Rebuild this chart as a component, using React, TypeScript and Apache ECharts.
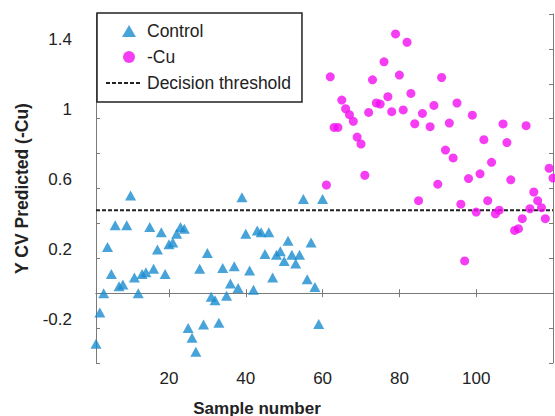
import React, { useEffect, useRef } from "react";
import * as echarts from "echarts";

const controlSamples = [
  1, 2, 3, 4, 5, 6, 7, 8, 9, 10, 11, 12, 13, 14, 15, 16, 17, 18, 19, 20,
  21, 22, 23, 24, 25, 26, 27, 28, 29, 30, 31, 32, 33, 34, 35, 36, 37, 38, 39, 40,
  41, 42, 43, 44, 45, 46, 47, 48, 49, 50, 51, 52, 53, 54, 55, 56, 57, 58, 59, 60,
];
const controlValues = [
  -0.29, -0.11, 0.0, 0.265, 0.11, 0.39, 0.04, 0.05, 0.39, 0.56,
  0.09, 0.0, 0.11, 0.12, 0.38, 0.14, 0.25, 0.35, 0.11, 0.28,
  0.29, 0.34, 0.38, 0.37, -0.2, -0.255, -0.335, 0.14, -0.18, 0.23,
  -0.02, -0.04, -0.17, 0.145, -0.015, 0.055, 0.155, 0.03, 0.55, 0.34,
  0.13, 0.02, 0.36, 0.35, 0.225, 0.35, 0.09, 0.22, 0.24, 0.185,
  0.3, 0.22, 0.17, 0.22, 0.54, 0.08, 0.29, 0.036, -0.177, 0.54,
];
const cuSamples = [
  61, 62, 63, 64, 65, 66, 67, 68, 69, 70, 71, 72, 73, 74, 75, 76, 77, 78, 79, 80,
  81, 82, 83, 84, 85, 86, 88, 89, 90, 91, 92, 93, 94, 95, 96, 97, 98, 99, 100,
  101, 102, 103, 104, 105, 106, 107, 108, 109, 110, 111, 112, 113, 114, 115, 116, 117, 118, 119, 120,
];
const cuValues = [
  0.62, 1.24, 0.95, 0.95, 1.107, 1.057, 1.023, 0.985, 0.895, 0.855,
  0.676, 1.036, 1.223, 1.09, 1.084, 1.326, 1.126, 1.04, 1.486, 1.25,
  1.05, 1.438, 1.145, 0.971, 0.53, 1.03, 0.954, 1.076, 0.625, 1.236,
  0.82, 0.975, 0.775, 1.09, 0.51, 0.185, 0.657, 1.02, 0.465,
  0.684, 0.88, 0.53, 0.75, 0.455, 0.476, 0.97, 0.863, 0.65, 0.36,
  0.37, 0.427, 0.96, 0.484, 0.58, 0.53, 0.49, 0.427, 0.716, 0.66,
];
const thresholdValue = 0.475;
const xRange = [1, 120];
const xTickValues = [20, 40, 60, 80, 100];
const yLabelValues = [-0.2, 0.2, 0.6, 1, 1.4];

const FONT = '"Liberation Sans", Arial, sans-serif';
const AXIS_COLOR = "#7a7a7a";
const TEXT_COLOR = "#222";

// Legend icons: the leading move-to points only widen the icon's box so the
// marker sits right of centre and keeps its proportions.
const LEGEND_TRIANGLE = "path://M-8.33,-0.4M0,10.4M0,10L5.77,0L11.54,10Z";
const LEGEND_CIRCLE = "path://M-8.33,-0.42M0,10.42M0,5A5,5,0,1,0,10,5A5,5,0,1,0,0,5Z";

export default function App() {
  const ref = useRef<HTMLDivElement>(null);

  useEffect(() => {
    document.body.style.margin = "0";
    if (!ref.current) return;
    const chart = echarts.init(ref.current, undefined, { renderer: "svg" });

    const controlData = controlSamples.map((s, i) => [s, controlValues[i]]);
    const cuData = cuSamples.map((s, i) => [s, cuValues[i]]);
    const thresholdData = [
      [xRange[0], thresholdValue],
      [xRange[1], thresholdValue],
    ];

    const labelKeys = new Set(yLabelValues.map((v) => Math.round(v * 10)));

    const baseX = {
      type: "value",
      min: xRange[0],
      max: xRange[1],
      splitLine: { show: false },
      axisLine: { show: true, lineStyle: { color: AXIS_COLOR, width: 1 } },
      axisTick: {
        show: true,
        inside: true,
        length: 4,
        customValues: xTickValues,
        lineStyle: { color: AXIS_COLOR },
      },
    };
    const baseY = {
      type: "value",
      min: -0.4,
      max: 1.6,
      interval: 0.2,
      splitLine: { show: false },
      axisLine: { show: true, lineStyle: { color: AXIS_COLOR, width: 1 } },
      axisTick: { show: true, inside: true, length: 4, lineStyle: { color: AXIS_COLOR } },
    };

    const option = {
      animation: false,
      backgroundColor: "#fff",
      grid: { left: 96, right: 2, top: 14, bottom: 53, show: false },
      legend: {
        orient: "vertical",
        left: 97,
        top: 13,
        backgroundColor: "#fff",
        borderColor: "#222",
        borderWidth: 1.5,
        borderRadius: 0,
        padding: [9, 11, 10, 8],
        itemWidth: 36,
        itemHeight: 13,
        itemGap: 8,
        selectedMode: false,
        textStyle: { fontSize: 17.5, color: TEXT_COLOR, fontFamily: FONT },
        data: [
          { name: "Control", icon: LEGEND_TRIANGLE },
          { name: "-Cu", icon: LEGEND_CIRCLE },
          { name: "Decision threshold" },
        ],
        z: 10,
      },
      xAxis: [
        {
          ...baseX,
          position: "bottom",
          axisLabel: {
            show: true,
            customValues: xTickValues,
            fontSize: 17,
            color: TEXT_COLOR,
            fontFamily: FONT,
            margin: 7,
          },
        },
        {
          ...baseX,
          position: "top",
          axisLabel: { show: false },
        },
      ],
      yAxis: [
        {
          ...baseY,
          position: "left",
          name: "Y CV Predicted (-Cu)",
          nameLocation: "middle",
          nameGap: 65,
          nameTextStyle: {
            fontSize: 17.5,
            fontWeight: "bold",
            color: TEXT_COLOR,
            fontFamily: FONT,
          },
          axisLabel: {
            show: true,
            fontSize: 17,
            color: TEXT_COLOR,
            fontFamily: FONT,
            margin: 24,
            verticalAlign: "bottom",
            lineHeight: 18,
            formatter: (v: number) => (labelKeys.has(Math.round(v * 10)) ? String(v) : ""),
          },
        },
        {
          ...baseY,
          position: "right",
          axisLabel: { show: false },
        },
      ],
      graphic: [
        {
          type: "text",
          x: 257,
          y: 408,
          style: {
            text: "Sample number",
            font: `bold 17px ${FONT}`,
            fill: TEXT_COLOR,
            align: "center",
            verticalAlign: "middle",
          },
        },
      ],
      series: [
        {
          name: "Control",
          type: "scatter",
          xAxisIndex: 0,
          yAxisIndex: 0,
          symbol: "triangle",
          symbolSize: [11, 10],
          itemStyle: { color: "#1a8cce" },
          data: controlData,
          z: 3,
        },
        {
          name: "-Cu",
          type: "scatter",
          xAxisIndex: 0,
          yAxisIndex: 0,
          symbol: "circle",
          symbolSize: 9,
          itemStyle: { color: "#f20cf0" },
          data: cuData,
          z: 3,
        },
        {
          name: "Decision threshold",
          type: "line",
          xAxisIndex: 0,
          yAxisIndex: 0,
          symbol: "none",
          lineStyle: { color: "#222", width: 2, type: [4, 2] },
          itemStyle: { color: "rgba(0,0,0,0)", borderWidth: 0 },
          data: thresholdData,
          z: 2,
        },
      ],
    };

    chart.setOption(option as any);
    return () => chart.dispose();
  }, []);

  return <div ref={ref} style={{ width: 555, height: 416 }} />;
}
